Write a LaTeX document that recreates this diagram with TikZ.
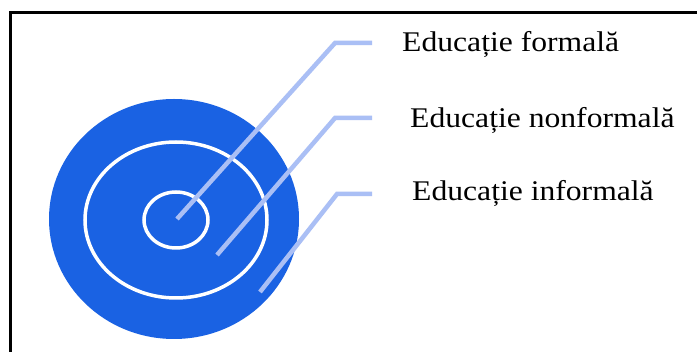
\documentclass[tikz,border=0pt]{standalone}
\usepackage{fontspec}
\setmainfont{Liberation Serif}
\newfontfamily\lblfont[FakeStretch=1.11]{Liberation Serif}
\definecolor{ringblue}{HTML}{1A62E3}
\definecolor{leadblue}{HTML}{AABFF5}
\begin{document}
\begin{tikzpicture}[x=1pt,y=-1pt,
  ring/.style={draw=white,line width=3.5pt},
  leader/.style={draw=leadblue,line width=4.5pt},
  lbl/.style={anchor=base west,inner sep=0pt,font=\lblfont\fontsize{28.5}{30}\selectfont}]
\useasboundingbox (0,0) rectangle (697,352);
\fill[white] (0,0) rectangle (697,352);
\draw[line width=3pt] (10,13) rectangle (720,380);
\fill[ringblue] (174,219) ellipse [x radius=125, y radius=120];
\draw[ring] (176,220) ellipse [x radius=91, y radius=78];
\draw[ring] (176,220) ellipse [x radius=32, y radius=28];
\coordinate (p1) at (177,219);
\coordinate (k1) at (335,43);
\coordinate (e1) at (372,43);
\coordinate (p2) at (217,255);
\coordinate (k2) at (335,118);
\coordinate (e2) at (372,118);
\coordinate (p3) at (260,292);
\coordinate (k3) at (337,194);
\coordinate (e3) at (372,194);
\draw[leader] (p1) -- (k1) -- (e1);
\draw[leader] (p2) -- (k2) -- (e2);
\draw[leader] (p3) -- (k3) -- (e3);
\node[lbl] (t1) at (402,52) {Educație formală};
\node[lbl] (t2) at (410,128) {Educație nonformală};
\node[lbl] (t3) at (412,201) {Educație informală};
\end{tikzpicture}
\end{document}
